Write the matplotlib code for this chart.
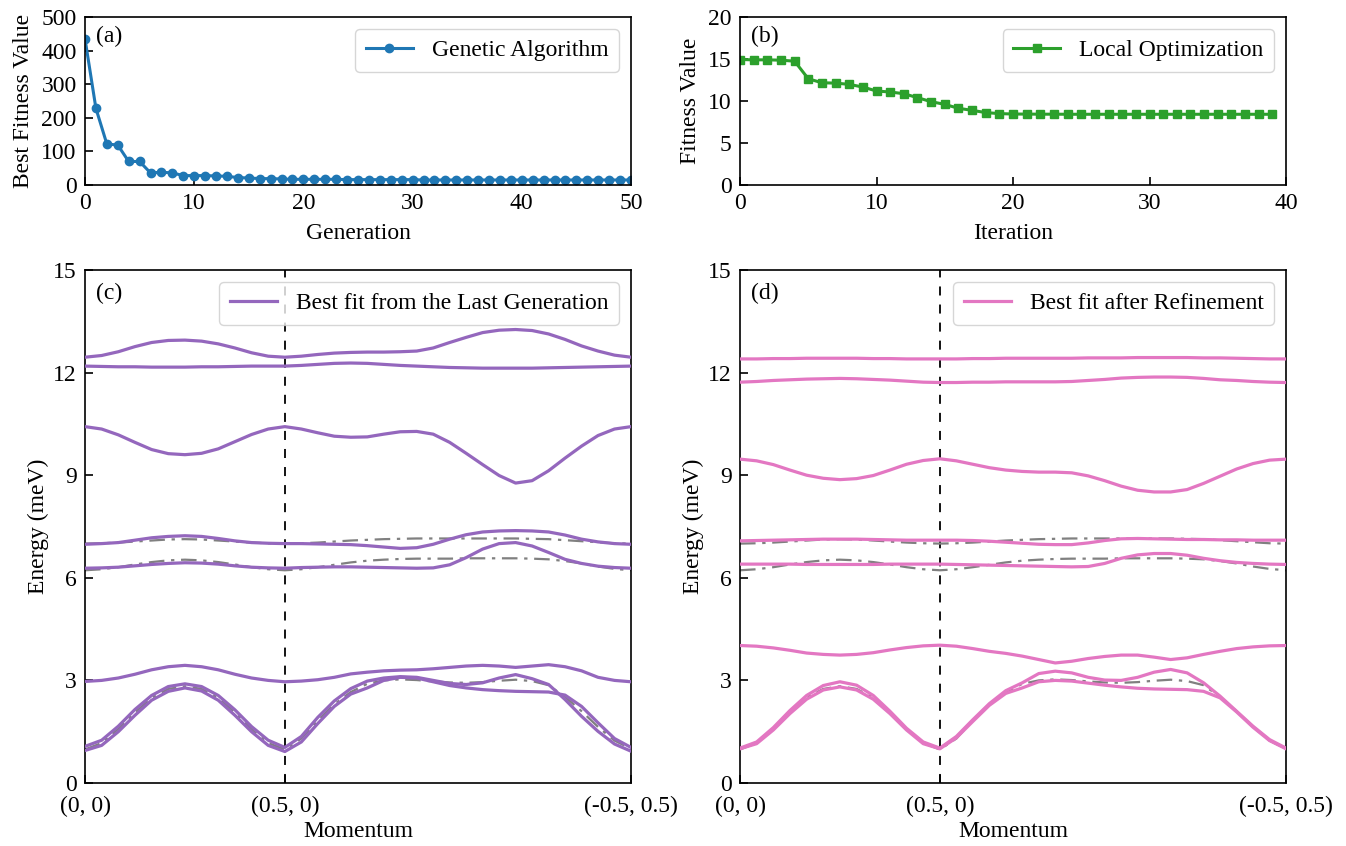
import numpy as np
import matplotlib
matplotlib.use("Agg")
import matplotlib.pyplot as plt

plt.rcParams['font.family'] = ['Liberation Serif', 'DejaVu Serif']
plt.rcParams['mathtext.fontset'] = 'stix'
plt.rcParams['font.size'] = 17

# ---- optimisation histories ----
generation = np.arange(51)
best_fitness = [435, 228, 122, 119, 70, 70, 36, 38, 36, 28, 28, 28, 27, 26, 22, 21, 19, 19, 18, 17,
                17, 17, 17, 17, 16, 16, 16, 16, 16, 16, 16, 15, 15, 15, 15, 15, 15, 15, 15, 15,
                15, 15, 15, 15, 15, 15, 15, 15, 15, 15, 15]

iteration = np.arange(40)
local_fitness = [14.94, 14.90, 14.90, 14.86, 14.74, 12.65, 12.17, 12.13, 11.98, 11.66,
                 11.19, 11.07, 10.87, 10.40, 9.92, 9.60, 9.13, 8.89, 8.62, 8.50,
                 8.45, 8.44, 8.43, 8.43, 8.42, 8.42, 8.42, 8.42, 8.42, 8.42,
                 8.42, 8.42, 8.42, 8.42, 8.42, 8.42, 8.42, 8.42, 8.42, 8.42]

# ---- momentum path (0,0) -> (0.5,0) -> (-0.5,0.5), path length in reciprocal units ----
seg_gx = 0.5
seg_xm = 0.866
k_path = np.concatenate([np.linspace(0, seg_gx, 13), seg_gx + np.linspace(0, seg_xm, 22)[1:]])
k_ticks = [0, seg_gx, seg_gx + seg_xm]
k_labels = ['(0, 0)', '(0.5, 0)', '(-0.5, 0.5)']

# reference dispersion (dash-dot grey)
ref_band1 = [7.00, 7.01, 7.03, 7.06, 7.09, 7.12, 7.13, 7.12, 7.09, 7.06, 7.03, 7.01, 7.00,
             7.01, 7.03, 7.06, 7.09, 7.11, 7.13, 7.14, 7.15, 7.15, 7.15, 7.15, 7.15, 7.15, 7.15, 7.14, 7.13, 7.10, 7.07, 7.04, 7.01, 7.00]
ref_band2 = [6.22, 6.25, 6.31, 6.39, 6.46, 6.51, 6.53, 6.51, 6.46, 6.39, 6.31, 6.25, 6.22,
             6.25, 6.31, 6.38, 6.45, 6.50, 6.53, 6.55, 6.56, 6.56, 6.56, 6.57, 6.57, 6.57, 6.57, 6.56, 6.54, 6.49, 6.42, 6.33, 6.26, 6.22]
ref_band3 = [0.98, 1.17, 1.58, 2.06, 2.49, 2.75, 2.83, 2.75, 2.49, 2.06, 1.57, 1.17, 0.98,
             1.30, 1.83, 2.30, 2.66, 2.90, 3.00, 3.03, 3.01, 2.97, 2.94, 2.93, 2.95, 2.99, 3.02, 2.98, 2.86, 2.52, 2.10, 1.64, 1.24, 1.00]
ref_bands = [ref_band1, ref_band2, ref_band3]

# best fit from the last GA generation
ga_band1 = [12.45, 12.50, 12.61, 12.76, 12.88, 12.94, 12.95, 12.92, 12.84, 12.72, 12.58, 12.48, 12.45,
            12.48, 12.53, 12.57, 12.59, 12.60, 12.60, 12.61, 12.63, 12.72, 12.88, 13.03, 13.17, 13.24, 13.26, 13.23, 13.13, 12.97, 12.78, 12.63, 12.51, 12.45]
ga_band2 = [12.19, 12.18, 12.17, 12.17, 12.16, 12.16, 12.16, 12.17, 12.17, 12.18, 12.19, 12.19, 12.19,
            12.21, 12.24, 12.27, 12.28, 12.27, 12.24, 12.21, 12.19, 12.17, 12.15, 12.14, 12.13, 12.13, 12.13, 12.13, 12.14, 12.15, 12.16, 12.17, 12.18, 12.19]
ga_band3 = [10.42, 10.35, 10.18, 9.96, 9.75, 9.63, 9.60, 9.64, 9.77, 9.98, 10.19, 10.35, 10.42,
            10.35, 10.24, 10.14, 10.11, 10.12, 10.20, 10.27, 10.28, 10.20, 9.96, 9.64, 9.31, 8.99, 8.77, 8.84, 9.13, 9.50, 9.85, 10.16, 10.35, 10.42]
ga_band4 = [6.98, 7.00, 7.03, 7.10, 7.17, 7.21, 7.23, 7.21, 7.15, 7.08, 7.03, 7.01, 7.00,
            7.00, 6.99, 6.98, 6.97, 6.94, 6.90, 6.86, 6.88, 6.98, 7.13, 7.26, 7.34, 7.37, 7.38, 7.37, 7.34, 7.25, 7.13, 7.05, 7.00, 6.98]
ga_band5 = [6.28, 6.29, 6.31, 6.35, 6.39, 6.42, 6.44, 6.43, 6.40, 6.35, 6.31, 6.29, 6.28,
            6.30, 6.31, 6.32, 6.32, 6.31, 6.30, 6.29, 6.28, 6.29, 6.38, 6.59, 6.84, 7.00, 7.03, 6.93, 6.74, 6.54, 6.42, 6.34, 6.30, 6.28]
ga_band6 = [2.97, 3.00, 3.07, 3.18, 3.31, 3.40, 3.44, 3.40, 3.31, 3.18, 3.07, 3.00, 2.96,
            2.98, 3.02, 3.09, 3.19, 3.24, 3.28, 3.30, 3.31, 3.34, 3.38, 3.42, 3.44, 3.42, 3.38, 3.42, 3.46, 3.40, 3.28, 3.09, 3.00, 2.96]
ga_band7 = [1.07, 1.25, 1.66, 2.15, 2.56, 2.82, 2.90, 2.82, 2.56, 2.14, 1.65, 1.25, 1.04,
            1.36, 1.92, 2.40, 2.76, 2.98, 3.07, 3.11, 3.09, 3.00, 2.91, 2.88, 2.93, 3.07, 3.17, 3.05, 2.88, 2.44, 1.95, 1.51, 1.14, 0.93]
ga_band8 = [0.95, 1.10, 1.50, 1.98, 2.42, 2.68, 2.78, 2.69, 2.42, 1.98, 1.50, 1.10, 0.92,
            1.20, 1.74, 2.24, 2.60, 2.78, 3.00, 3.09, 3.07, 2.96, 2.85, 2.78, 2.73, 2.70, 2.68, 2.67, 2.66, 2.57, 2.24, 1.76, 1.30, 1.04]
ga_bands = [ga_band1, ga_band2, ga_band3, ga_band4, ga_band5, ga_band6, ga_band7, ga_band8]

# best fit after local refinement
ref_fit_band1 = [12.40, 12.40, 12.41, 12.41, 12.42, 12.42, 12.42, 12.42, 12.41, 12.41, 12.40, 12.40, 12.40,
                 12.40, 12.41, 12.41, 12.42, 12.42, 12.42, 12.42, 12.42, 12.43, 12.43, 12.43, 12.44, 12.44, 12.44, 12.44, 12.43, 12.43, 12.42, 12.41, 12.40, 12.40]
ref_fit_band2 = [11.72, 11.74, 11.77, 11.79, 11.81, 11.82, 11.83, 11.82, 11.80, 11.78, 11.75, 11.72, 11.71,
                 11.71, 11.72, 11.72, 11.73, 11.73, 11.73, 11.73, 11.74, 11.77, 11.80, 11.84, 11.86, 11.87, 11.87, 11.86, 11.83, 11.79, 11.77, 11.74, 11.72, 11.71]
ref_fit_band3 = [9.47, 9.42, 9.31, 9.15, 9.00, 8.91, 8.87, 8.90, 8.99, 9.15, 9.32, 9.43, 9.48,
                 9.42, 9.32, 9.22, 9.15, 9.11, 9.09, 9.09, 9.07, 8.98, 8.84, 8.68, 8.56, 8.51, 8.51, 8.58, 8.76, 8.97, 9.18, 9.34, 9.44, 9.47]
ref_fit_band4 = [7.08, 7.09, 7.10, 7.11, 7.12, 7.13, 7.13, 7.13, 7.12, 7.11, 7.10, 7.10, 7.10,
                 7.10, 7.09, 7.07, 7.04, 7.01, 6.98, 6.97, 6.97, 7.02, 7.09, 7.14, 7.15, 7.14, 7.13, 7.12, 7.12, 7.11, 7.11, 7.10, 7.10, 7.10]
ref_fit_band5 = [6.40, 6.40, 6.40, 6.40, 6.39, 6.39, 6.39, 6.39, 6.39, 6.40, 6.40, 6.40, 6.40,
                 6.39, 6.38, 6.37, 6.36, 6.35, 6.34, 6.33, 6.32, 6.33, 6.42, 6.57, 6.67, 6.71, 6.71, 6.66, 6.57, 6.50, 6.45, 6.42, 6.40, 6.39]
ref_fit_band6 = [4.02, 4.00, 3.95, 3.88, 3.80, 3.76, 3.74, 3.76, 3.81, 3.89, 3.96, 4.01, 4.03,
                 4.00, 3.93, 3.85, 3.79, 3.71, 3.61, 3.51, 3.56, 3.64, 3.70, 3.74, 3.74, 3.68, 3.61, 3.66, 3.76, 3.85, 3.93, 3.98, 4.01, 4.02]
ref_fit_band7 = [1.02, 1.20, 1.62, 2.12, 2.56, 2.85, 2.96, 2.86, 2.56, 2.10, 1.60, 1.20, 1.02,
                 1.36, 1.85, 2.32, 2.70, 2.93, 3.20, 3.27, 3.22, 3.09, 3.01, 3.00, 3.09, 3.24, 3.32, 3.22, 2.93, 2.54, 2.10, 1.66, 1.27, 1.02]
ref_fit_band8 = [1.00, 1.15, 1.55, 2.03, 2.45, 2.72, 2.81, 2.72, 2.45, 2.03, 1.55, 1.15, 1.00,
                 1.32, 1.80, 2.27, 2.62, 2.78, 2.96, 3.00, 2.98, 2.92, 2.86, 2.81, 2.77, 2.75, 2.74, 2.73, 2.68, 2.49, 2.08, 1.63, 1.24, 1.00]
ref_fit_bands = [ref_fit_band1, ref_fit_band2, ref_fit_band3, ref_fit_band4,
                 ref_fit_band5, ref_fit_band6, ref_fit_band7, ref_fit_band8]


def style_axis(ax, xpad=6):
    ax.tick_params(direction='in', length=6, width=1.2, pad=6, top=False, right=False)
    ax.tick_params(axis='x', pad=xpad)
    for sp in ax.spines.values():
        sp.set_linewidth(1.2)


fig = plt.figure(figsize=(13.46, 8.46), dpi=100)
W, H = 1346.0, 846.0
ax_a = fig.add_axes([85 / W, 1 - 185 / H, 546 / W, 168 / H])
ax_b = fig.add_axes([740 / W, 1 - 185 / H, 546 / W, 168 / H])
ax_c = fig.add_axes([85 / W, 1 - 783 / H, 546 / W, 513 / H])
ax_d = fig.add_axes([740 / W, 1 - 783 / H, 546 / W, 513 / H])

leg_kw = dict(loc='upper right', handlelength=2.0, handletextpad=0.8, borderpad=0.45)

# (a) genetic algorithm convergence
ax_a.plot(generation, best_fitness, '-o', color='tab:blue', lw=2.2, ms=6, label='Genetic Algorithm')
ax_a.set_xlim(0, 50)
ax_a.set_ylim(0, 500)
ax_a.set_xticks(np.arange(0, 51, 10))
ax_a.set_yticks(np.arange(0, 501, 100))
ax_a.set_xlabel('Generation', labelpad=6)
ax_a.set_ylabel('Best Fitness Value', labelpad=5)
ax_a.legend(**leg_kw)
ax_a.text(0.02, 0.95, '(a)', transform=ax_a.transAxes, va='top', ha='left')
style_axis(ax_a)

# (b) local optimisation
ax_b.plot(iteration, local_fitness, '-s', color='tab:green', lw=2.2, ms=6, label='Local Optimization')
ax_b.set_xlim(0, 40)
ax_b.set_ylim(0, 20)
ax_b.set_xticks(np.arange(0, 41, 10))
ax_b.set_yticks(np.arange(0, 21, 5))
ax_b.set_xlabel('Iteration', labelpad=6)
ax_b.set_ylabel('Fitness Value', labelpad=5)
ax_b.legend(**leg_kw)
ax_b.text(0.02, 0.95, '(b)', transform=ax_b.transAxes, va='top', ha='left')
style_axis(ax_b)

# (c), (d) dispersion along the path
for ax, bands, color, label, tag in [(ax_c, ga_bands, 'tab:purple', 'Best fit from the Last Generation', '(c)'),
                                     (ax_d, ref_fit_bands, 'tab:pink', 'Best fit after Refinement', '(d)')]:
    for b in ref_bands:
        ax.plot(k_path, b, color='gray', ls=(0, (7, 3, 1.5, 3)), lw=1.6, zorder=2)
    for n, b in enumerate(bands):
        ax.plot(k_path, b, '-', color=color, lw=2.3, zorder=3, label=label if n == 0 else None)
    ax.axvline(seg_gx, color='k', ls=(0, (5, 5)), lw=1.3, zorder=1)
    ax.set_xlim(0, seg_gx + seg_xm)
    ax.set_ylim(0, 15)
    ax.set_xticks(k_ticks)
    ax.set_xticklabels(k_labels)
    ax.set_yticks(np.arange(0, 16, 3))
    ax.set_xlabel('Momentum', labelpad=3)
    ax.set_ylabel('Energy (meV)', labelpad=3)
    ax.legend(**leg_kw)
    ax.text(0.02, 0.975, tag, transform=ax.transAxes, va='top', ha='left')
    style_axis(ax, xpad=9)

fig.savefig('out.png', dpi=100)
